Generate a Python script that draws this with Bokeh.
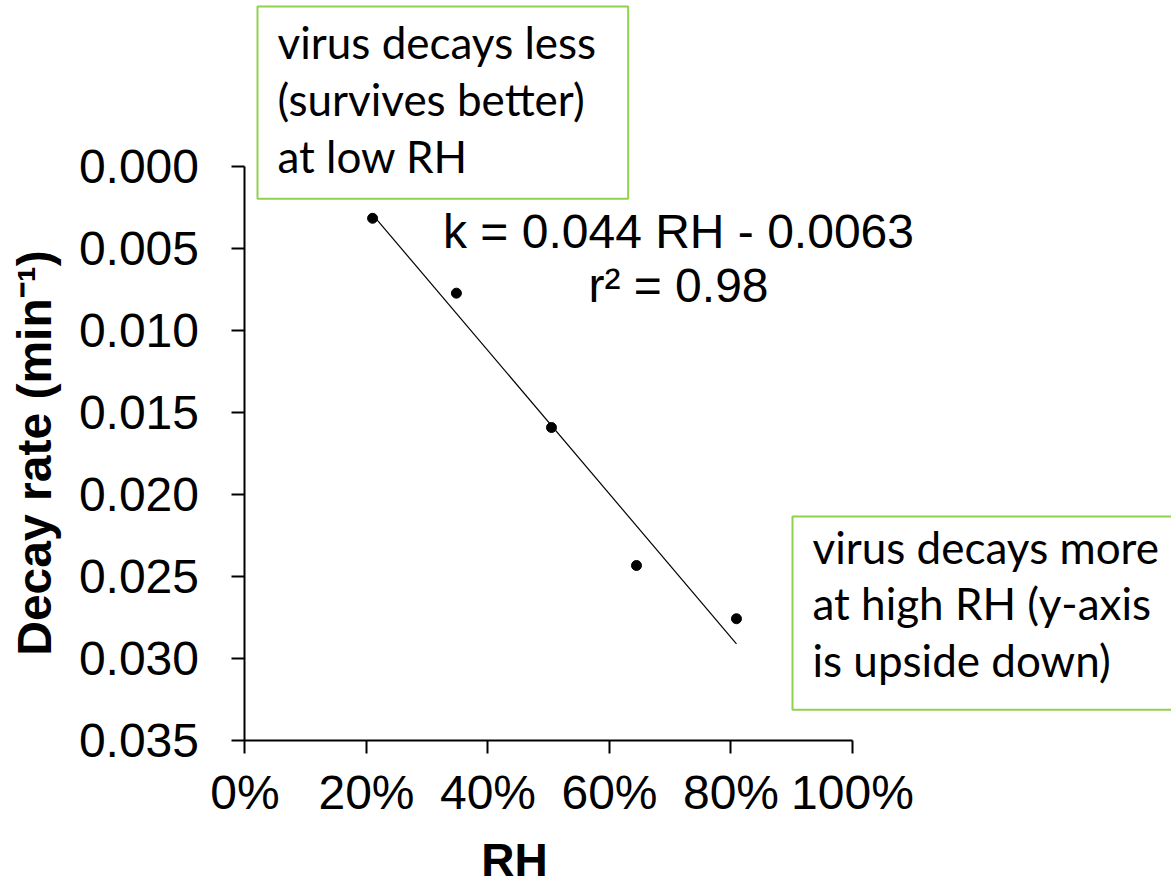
import math
import numpy as np
from bokeh.plotting import figure
from bokeh.models import Range1d, FixedTicker, NumeralTickFormatter, Label
from bokeh.embed import file_html
from bokeh.resources import INLINE

# ---- data ----
rh = [0.210, 0.348, 0.5045, 0.6444, 0.809]
decay = [0.00316, 0.00773, 0.01593, 0.02435, 0.0276]
x_ticks = [0.0, 0.2, 0.4, 0.6, 0.8, 1.0]
y_ticks = [0.0, 0.005, 0.010, 0.015, 0.020, 0.025, 0.030, 0.035]
x_title = "RH"
y_title = "Decay rate (min\u207b\u00b9)"
eq_text = "k = 0.044 RH - 0.0063"
r2_text = "r\u00b2 = 0.98"
note_low = "virus decays less\n(survives better)\nat low RH"
note_high = "virus decays more\nat high RH (y-axis\nis upside down)"

FONT = "Liberation Sans"
GREEN = "#92D050"
W, H = 1171, 887

# data window: axes occupy 0..1 (RH) and 0..0.035 (decay), the rest is margin
x_range = Range1d(-0.402469, 1.525103)
y_range = Range1d(0.044001, -0.010131)   # inverted: 0 at top

p = figure(width=W, height=H, x_range=x_range, y_range=y_range,
           output_backend="svg", toolbar_location=None,
           min_border_left=0, min_border_right=0,
           min_border_top=0, min_border_bottom=0)
p.background_fill_color = "white"
p.border_fill_color = "white"
p.outline_line_color = None
p.xgrid.visible = False
p.ygrid.visible = False

for ax in (p.xaxis[0], p.yaxis[0]):
    ax.axis_line_color = "black"
    ax.axis_line_width = 2
    ax.major_tick_line_color = "black"
    ax.major_tick_line_width = 2
    ax.major_tick_in = 0
    ax.major_tick_out = 13
    ax.minor_tick_line_color = None
    ax.major_label_text_font = FONT
    ax.major_label_text_font_size = "48px"
    ax.major_label_text_color = "black"

p.xaxis.ticker = FixedTicker(ticks=x_ticks)
p.xaxis.formatter = NumeralTickFormatter(format="0%")
p.xaxis.major_label_standoff = 13
p.xaxis.bounds = (x_ticks[0], x_ticks[-1])
p.xaxis.fixed_location = y_ticks[-1]

p.yaxis.ticker = FixedTicker(ticks=y_ticks)
p.yaxis.formatter = NumeralTickFormatter(format="0.000")
p.yaxis.major_label_standoff = 33
p.yaxis.bounds = (y_ticks[0], y_ticks[-1])
p.yaxis.fixed_location = x_ticks[0]

# trend line from a least-squares fit of the points
slope, intercept = np.polyfit(rh, decay, 1)
xs = [min(rh), max(rh)]
p.line(xs, [slope * x + intercept for x in xs], line_color="black", line_width=1.2)
p.scatter(rh, decay, size=10, color="black")

# axis titles
p.add_layout(Label(x=0.4436, y=0.04232, text=x_title, text_align="center",
                   text_baseline="alphabetic", text_font=FONT,
                   text_font_size="46px", text_font_style="bold", text_color="black"))
p.add_layout(Label(x=-0.3473, y=0.017485, text=y_title, text_align="center",
                   text_baseline="alphabetic", angle=math.pi / 2, text_font=FONT,
                   text_font_size="48px", text_font_style="bold", text_color="black"))

# regression equation
p.add_layout(Label(x=0.71358, y=0.003936, text=eq_text, text_align="center",
                   text_baseline="alphabetic", text_font=FONT,
                   text_font_size="48px", text_color="black"))
p.add_layout(Label(x=0.71358, y=0.007232, text=r2_text, text_align="center",
                   text_baseline="alphabetic", text_font=FONT,
                   text_font_size="48px", text_color="black"))

# annotation boxes (padding = left, right, top, bottom)
common = dict(text_align="left", text_baseline="top", text_font="Lato",
              text_font_size="44px", text_color="black", text_line_height=1.089,
              border_line_color=GREEN, border_line_width=2,
              background_fill_color="white")
p.add_layout(Label(x=0.02058, y=-0.009765, text=note_low,
                   padding=(20, 32, 10, 17), **common))
p.add_layout(Label(x=0.90123, y=0.021360, text=note_high,
                   padding=(20, 40, 4, 24), **common))

open("out.html", "w").write(file_html(p, INLINE))
